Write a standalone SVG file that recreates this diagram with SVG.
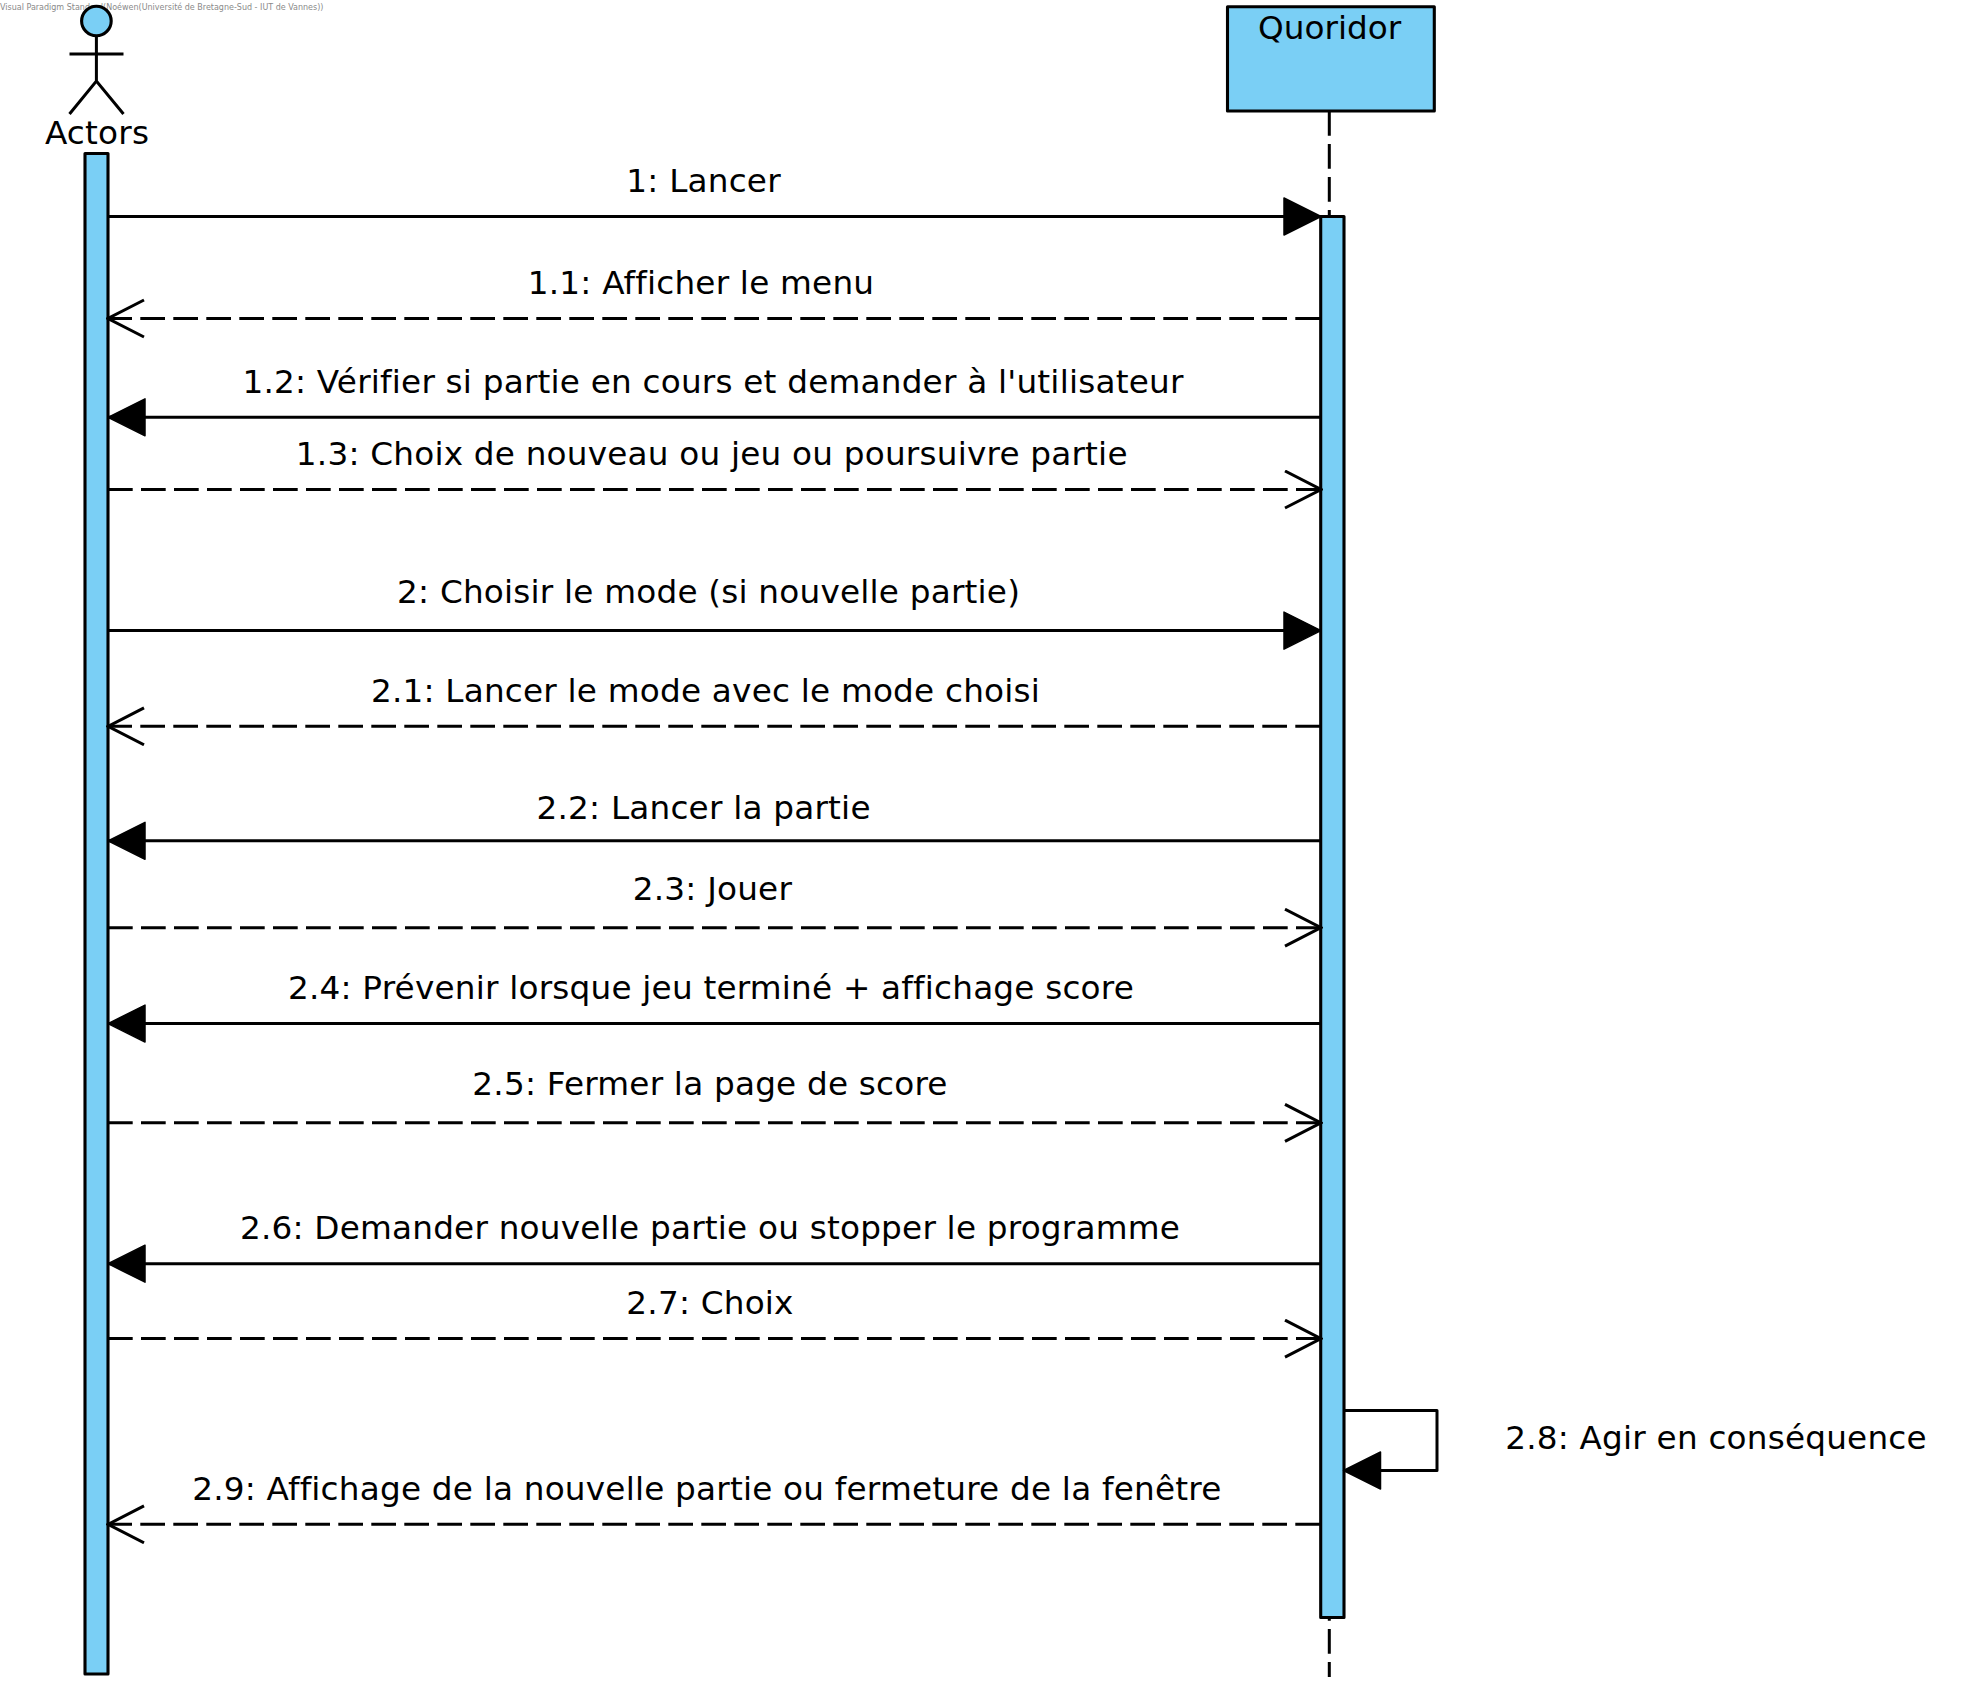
<svg xmlns="http://www.w3.org/2000/svg" width="1974" height="1689" viewBox="0 0 1974 1689">
<style>
text{font-family:"DejaVu Sans",sans-serif;font-size:32.7px;fill:#000;text-anchor:middle}
#labels text{letter-spacing:.2px}
.box{fill:#7acff5;stroke:#000;stroke-width:3.1;stroke-linejoin:round}
.ln{fill:none;stroke:#000;stroke-width:3}
.sync{marker-end:url(#solid)}
.ret{stroke-dasharray:24.7 8.3;marker-end:url(#open)}
.wm{font-size:8px;fill:#8a8a8a;text-anchor:start}
</style>
<defs>
<marker id="solid" markerUnits="userSpaceOnUse" markerWidth="40" markerHeight="42" refX="38" refY="20" orient="auto"><path d="M1,1.5 L38,20 L1,38.5Z" fill="#000" stroke="#000" stroke-width="1.5" stroke-linejoin="round"/></marker>
<marker id="open" markerUnits="userSpaceOnUse" markerWidth="40" markerHeight="42" refX="38" refY="20" orient="auto"><path d="M2,1.5 L38,20 L2,38.5" fill="none" stroke="#000" stroke-width="3"/></marker>
</defs>
<rect width="1974" height="1689" fill="#fff"/>
<text class="wm" x="0" y="10">Visual Paradigm Standard(Noéwen(Université de Bretagne-Sud - IUT de Vannes))</text>
<g id="actor-actors">
<circle class="box" cx="96.4" cy="21" r="14.8"/>
<path class="ln" d="M96.4,36V81M69.5,54H123.5M69.5,114L96.4,81L123.5,114"/>
<text x="97" y="143.5" style="letter-spacing:.2px">Actors</text>
<rect class="box" x="85" y="153.5" width="23" height="1520.5"/>
</g>
<g id="lifeline-quoridor">
<path class="ln" d="M1329.3,111V1677" stroke-dasharray="24.7 8.3"/>
<rect class="box" x="1227.5" y="6.8" width="206.8" height="104.2"/>
<text x="1329.6" y="38.5">Quoridor</text>
<rect class="box" x="1320.7" y="216.5" width="23.3" height="1401"/>
</g>
<g id="connectors">
<path class="ln sync" d="M108,216.5H1321"/>
<path class="ln ret" d="M1320,318.5H108"/>
<path class="ln sync" d="M1320,417.3H108"/>
<path class="ln ret" d="M108,489.5H1321"/>
<path class="ln sync" d="M108,630.6H1321"/>
<path class="ln ret" d="M1320,726.3H108"/>
<path class="ln sync" d="M1320,840.8H108"/>
<path class="ln ret" d="M108,927.7H1321"/>
<path class="ln sync" d="M1320,1023.6H108"/>
<path class="ln ret" d="M108,1122.8H1321"/>
<path class="ln sync" d="M1320,1263.7H108"/>
<path class="ln ret" d="M108,1338.6H1321"/>
<path class="ln sync" d="M1344,1410.5H1437V1470.5H1343.5" stroke-linejoin="round"/>
<path class="ln ret" d="M1320,1524.3H108"/>
</g>
<g id="labels">
<text x="703.6" y="191.8">1: Lancer</text>
<text x="701" y="293.8">1.1: Afficher le menu</text>
<text x="713" y="393">1.2: Vérifier si partie en cours et demander à l'utilisateur</text>
<text x="711.8" y="465">1.3: Choix de nouveau ou jeu ou poursuivre partie</text>
<text x="708.6" y="603">2: Choisir le mode (si nouvelle partie)</text>
<text x="705.5" y="702">2.1: Lancer le mode avec le mode choisi</text>
<text x="703.6" y="819">2.2: Lancer la partie</text>
<text x="712.4" y="900">2.3: Jouer</text>
<text x="711" y="999">2.4: Prévenir lorsque jeu terminé + affichage score</text>
<text x="710" y="1095">2.5: Fermer la page de score</text>
<text x="710" y="1239">2.6: Demander nouvelle partie ou stopper le programme</text>
<text x="710" y="1314">2.7: Choix</text>
<text x="1716" y="1449">2.8: Agir en conséquence</text>
<text x="706.8" y="1500">2.9: Affichage de la nouvelle partie ou fermeture de la fenêtre</text>
</g>
</svg>
